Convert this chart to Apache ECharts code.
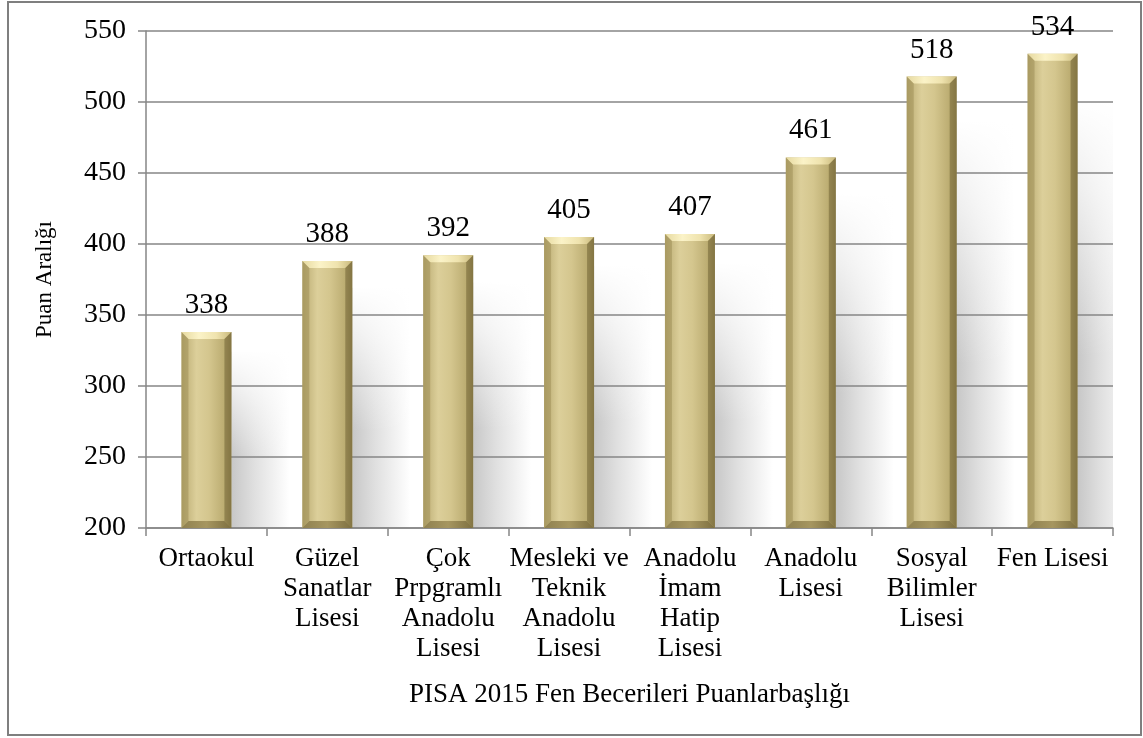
<!DOCTYPE html>
<html>
<head>
<meta charset="utf-8">
<script src="https://cdn.jsdelivr.net/npm/echarts@6/dist/echarts.min.js"></script>
<style>
  html, body { margin: 0; padding: 0; background: #fff; }
  #chart { width: 1143px; height: 738px; }
</style>
</head>
<body>
<div id="chart"></div>
<script>
// School types (x axis) and their PISA 2015 science scores
const categories = [
  'Ortaokul',
  'Güzel\nSanatlar\nLisesi',
  'Çok\nPrpgramlı\nAnadolu\nLisesi',
  'Mesleki ve\nTeknik\nAnadolu\nLisesi',
  'Anadolu\nİmam\nHatip\nLisesi',
  'Anadolu\nLisesi',
  'Sosyal\nBilimler\nLisesi',
  'Fen Lisesi'
];
const scores = [338, 388, 392, 405, 407, 461, 518, 534];
const yTicks = [200, 250, 300, 350, 400, 450, 500, 550];

const AXIS_MIN = 200;
const BAR_W = 50;
const BEVEL = 7;
const SERIF = '"Liberation Serif", "Times New Roman", serif';

const chart = echarts.init(document.getElementById('chart'), null, { renderer: 'canvas' });

// soft drop shadow to the right of each bar; a white wash fades its upper part
function renderShadow(params, api) {
  const top = api.coord([api.value(0), api.value(1)]);
  const base = api.coord([api.value(0), AXIS_MIN]);
  const x0 = top[0] + BAR_W / 2;
  const w = 58;
  const h = base[1] - top[1];
  const sTop = top[1] + h * 0.1;
  const sH = base[1] - sTop;
  return {
    type: 'group',
    children: [
      {
        type: 'rect',
        shape: { x: x0, y: sTop, width: w, height: sH },
        style: {
          fill: new echarts.graphic.LinearGradient(0, 0, 1, 0, [
            { offset: 0, color: 'rgba(70,70,70,0.30)' },
            { offset: 0.4, color: 'rgba(70,70,70,0.17)' },
            { offset: 1, color: 'rgba(70,70,70,0)' }
          ])
        },
        silent: true
      },
      {
        type: 'rect',
        shape: { x: x0, y: sTop - 1, width: w + 1, height: sH * 0.6 },
        style: {
          fill: new echarts.graphic.LinearGradient(0, 0, 0, 1, [
            { offset: 0, color: 'rgba(255,255,255,1)' },
            { offset: 0.35, color: 'rgba(255,255,255,0.7)' },
            { offset: 1, color: 'rgba(255,255,255,0)' }
          ])
        },
        silent: true
      }
    ]
  };
}

// bevelled edges laid over each bar body
function renderBevel(params, api) {
  const top = api.coord([api.value(0), api.value(1)]);
  const base = api.coord([api.value(0), AXIS_MIN]);
  const x0 = top[0] - BAR_W / 2, x1 = top[0] + BAR_W / 2;
  const y0 = top[1], y1 = base[1];
  const b = BEVEL;
  return {
    type: 'group',
    children: [
      { type: 'polygon', shape: { points: [[x0, y0], [x1, y0], [x1 - b, y0 + b], [x0 + b, y0 + b]] },
        style: { fill: new echarts.graphic.LinearGradient(0, 0, 1, 0, [
          { offset: 0, color: '#e6d9a0' }, { offset: 0.35, color: '#fbf3c8' },
          { offset: 0.7, color: '#efe3ae' }, { offset: 1, color: '#c9b97c' }]) } },
      { type: 'polygon', shape: { points: [[x0, y0], [x0 + b, y0 + b], [x0 + b, y1 - b], [x0, y1]] },
        style: { fill: 'rgba(150,135,80,0.45)' } },
      { type: 'polygon', shape: { points: [[x1, y0], [x1 - b, y0 + b], [x1 - b, y1 - b], [x1, y1]] },
        style: { fill: 'rgba(110,96,50,0.5)' } },
      { type: 'polygon', shape: { points: [[x0, y1], [x0 + b, y1 - b], [x1 - b, y1 - b], [x1, y1]] },
        style: { fill: new echarts.graphic.LinearGradient(0, 0, 1, 0, [
          { offset: 0, color: '#8f8150' }, { offset: 0.5, color: '#a69660' }, { offset: 1, color: '#7d6f40' }]) } }
    ]
  };
}

const option = {
  backgroundColor: '#ffffff',
  animation: false,
  textStyle: { fontFamily: SERIF },
  grid: { left: 146, right: 30, top: 31, bottom: 210 },
  xAxis: {
    type: 'category',
    z: 1,
    data: categories,
    axisLine: { show: true, lineStyle: { color: '#868686', width: 1.5 } },
    axisTick: { show: true, length: 8, alignWithLabel: false, lineStyle: { color: '#868686', width: 1.5 } },
    axisLabel: {
      interval: 0, margin: 16, color: '#000', fontFamily: SERIF, fontSize: 27,
      lineHeight: 30, verticalAlign: 'top'
    },
    name: 'PISA 2015 Fen Becerileri Puanlarbaşlığı',
    nameLocation: 'middle',
    nameGap: 153,
    nameTextStyle: { color: '#000', fontFamily: SERIF, fontSize: 27 }
  },
  yAxis: {
    type: 'value',
    z: 1,
    min: AXIS_MIN,
    max: 550,
    interval: 50,
    axisLine: { show: true, lineStyle: { color: '#868686', width: 1.5 } },
    axisTick: { show: true, length: 8, inside: false, lineStyle: { color: '#868686', width: 1.5 } },
    axisLabel: {
      margin: 20, color: '#000', fontFamily: SERIF, fontSize: 28,
      formatter: v => (yTicks.indexOf(v) >= 0 ? String(v) : '')
    },
    splitLine: { show: true, lineStyle: { color: '#868686', width: 1.5 } },
    name: 'Puan Aralığı',
    nameLocation: 'middle',
    nameGap: 90,
    nameRotate: 90,
    nameTextStyle: { color: '#000', fontFamily: SERIF, fontSize: 23 }
  },
  series: [
    {
      type: 'custom',
      data: scores.map((v, i) => [i, v]),
      renderItem: renderShadow,
      clip: true,
      z: 0,
      silent: true
    },
    {
      type: 'bar',
      data: scores,
      barWidth: BAR_W,
      z: 2,
      itemStyle: {
        color: new echarts.graphic.LinearGradient(0, 0, 1, 0, [
          { offset: 0, color: '#b9aa70' },
          { offset: 0.3, color: '#dccf9a' },
          { offset: 0.55, color: '#d4c68e' },
          { offset: 0.85, color: '#bcad72' },
          { offset: 1, color: '#9a8b55' }
        ])
      },
      label: {
        show: true, position: 'top', distance: 12,
        color: '#000', fontFamily: SERIF, fontSize: 29
      }
    },
    {
      type: 'custom',
      data: scores.map((v, i) => [i, v]),
      renderItem: renderBevel,
      z: 3,
      silent: true
    }
  ],
  graphic: [
    {
      type: 'rect',
      shape: { x: 8, y: 2, width: 1133, height: 733 },
      style: { fill: 'none', stroke: '#7f7f7f', lineWidth: 2 },
      silent: true
    }
  ]
};

chart.setOption(option);
</script>
</body>
</html>
